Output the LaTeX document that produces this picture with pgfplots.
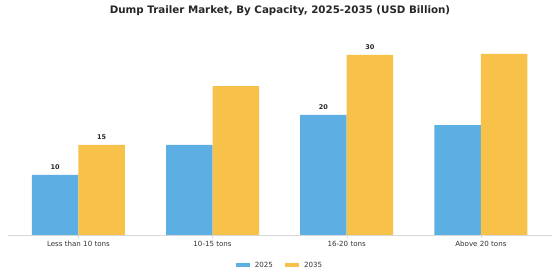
\documentclass[border=0pt]{standalone}
\usepackage{pgfplots}
\pgfplotsset{compat=1.18}
\usepackage{fontspec}
\setmainfont{DejaVu Sans}
\definecolor{cblue}{RGB}{93,174,227}
\definecolor{corange}{RGB}{247,193,74}
\definecolor{axgray}{RGB}{215,215,215}
\begin{document}
\begin{tikzpicture}[x=1pt,y=1pt]
\path[use as bounding box] (0,0) rectangle (560,280);
\node[font=\bfseries\fontsize{10.3}{12}\selectfont, text=black!85] at (280,269) {Dump Trailer Market, By Capacity, 2025-2035 (USD Billion)};
\begin{axis}[
  at={(8pt,45pt)}, anchor=south west,
  scale only axis, width=544pt, height=198pt,
  xmin=-0.525, xmax=3.53, ymin=0, ymax=33,
  ybar=0pt, bar width=46.5pt,
  axis x line=bottom, axis y line=none,
  axis line style={axgray, -},
  xtick={0,1,2,3},
  xticklabels={Less than 10 tons,10-15 tons,16-20 tons,Above 20 tons},
  x tick label style={font=\fontsize{7.1}{8}\selectfont, text=black!80},
  xtick style={draw=axgray},
  major tick length=3pt, tick align=outside,
  point meta=explicit symbolic,
  nodes near coords,
  nodes near coords style={font=\bfseries\fontsize{6.5}{7}\selectfont, text=black!85, yshift=1.5pt},
  legend style={at={(0.5,-0.153)}, anchor=center, draw=none, font=\fontsize{7.1}{8}\selectfont, text=black!80, legend columns=2,
    /tikz/every odd column/.append style={column sep=3pt},
    /tikz/every even column/.append style={column sep=10pt}},
  legend image code/.code={\draw[#1, draw=none] (0pt,-2.2pt) rectangle (14pt,2.2pt);},
]
\addplot[fill=cblue, draw=none] coordinates {(0,10) [10] (1,15) [] (2,20) [20] (3,18.3) []};
\addplot[fill=corange, draw=none] coordinates {(0,15) [15] (1,24.8) [] (2,30) [30] (3,30.2) []};
\legend{2025,2035}
\end{axis}
\end{tikzpicture}
\end{document}
